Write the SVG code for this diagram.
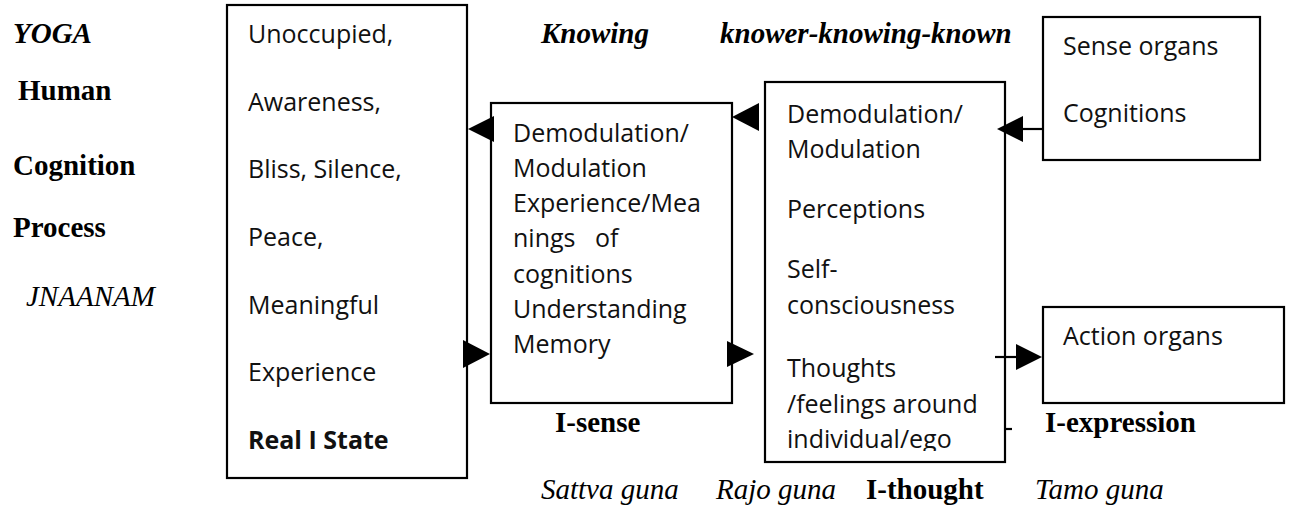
<svg xmlns="http://www.w3.org/2000/svg" width="1296" height="512" viewBox="0 0 1296 512">
  <style>
    .box { fill: #ffffff; stroke: #000000; stroke-width: 2.2; }
    .body { font-family: "Open Sans", "Noto Sans", sans-serif; font-size: 25px; fill: #111111; }
    .strong { font-weight: bold; }
    .serif { font-family: "Liberation Serif", "Times New Roman", serif; font-size: 29px; fill: #000000; }
    .b { font-weight: bold; }
    .i { font-style: italic; }
    .head { fill: #000000; }
    .wire { stroke: #000000; stroke-width: 2.2; fill: none; }
  </style>
  <defs>
    <clipPath id="clip-ithought">
      <rect x="765" y="82" width="240" height="369"/>
    </clipPath>
  </defs>
  <rect width="1296" height="512" fill="#ffffff"/>

  <!-- Side titles -->
  <g id="titles">
    <text class="serif b i" x="13" y="43">YOGA</text>
    <text class="serif b" x="18" y="100">Human</text>
    <text class="serif b" x="13" y="175">Cognition</text>
    <text class="serif b" x="13" y="237">Process</text>
    <text class="serif i" x="26" y="306">JNAANAM</text>
    <text class="serif b i" x="541" y="43">Knowing</text>
    <text class="serif b i" x="720" y="43">knower-knowing-known</text>
    <text class="serif b" x="555" y="432">I-sense</text>
    <text class="serif b" x="1045" y="432">I-expression</text>
    <text class="serif i" x="541" y="499">Sattva guna</text>
    <text class="serif i" x="716" y="499">Rajo guna</text>
    <text class="serif b" x="866" y="499">I-thought</text>
    <text class="serif i" x="1035" y="499">Tamo guna</text>
  </g>

  <!-- Real I state -->
  <g id="real-i-state">
    <rect class="box" x="227" y="5" width="240" height="473"/>
    <text class="body" x="248" y="43">Unoccupied,</text>
    <text class="body" x="248" y="111">Awareness,</text>
    <text class="body" x="248" y="178">Bliss, Silence,</text>
    <text class="body" x="248" y="246">Peace,</text>
    <text class="body" x="248" y="314">Meaningful</text>
    <text class="body" x="248" y="381">Experience</text>
    <text class="body strong" x="248" y="449">Real I State</text>
  </g>

  <!-- I-sense -->
  <g id="i-sense">
    <rect class="box" x="491" y="103" width="241" height="300"/>
    <text class="body" x="513" y="142">Demodulation/</text>
    <text class="body" x="513" y="177">Modulation</text>
    <text class="body" x="513" y="212">Experience/Mea</text>
    <text class="body" x="513" y="247" xml:space="preserve">nings   of</text>
    <text class="body" x="513" y="283">cognitions</text>
    <text class="body" x="513" y="318">Understanding</text>
    <text class="body" x="513" y="353">Memory</text>
  </g>

  <!-- I-thought -->
  <g id="i-thought">
    <rect class="box" x="765" y="82" width="240" height="380"/>
    <g clip-path="url(#clip-ithought)">
      <text class="body" x="787" y="123">Demodulation/</text>
      <text class="body" x="787" y="158">Modulation</text>
      <text class="body" x="787" y="218">Perceptions</text>
      <text class="body" x="787" y="278">Self-</text>
      <text class="body" x="787" y="314">consciousness</text>
      <text class="body" x="787" y="377">Thoughts</text>
      <text class="body" x="787" y="413">/feelings around</text>
      <text class="body" x="787" y="448">individual/ego</text>
    </g>
  </g>

  <!-- Sense organs -->
  <g id="sense-organs">
    <rect class="box" x="1043" y="17" width="217" height="143"/>
    <text class="body" x="1063" y="55">Sense organs</text>
    <text class="body" x="1063" y="122">Cognitions</text>
  </g>

  <!-- Action organs -->
  <g id="action-organs">
    <rect class="box" x="1043" y="307" width="241" height="96"/>
    <text class="body" x="1063" y="345">Action organs</text>
  </g>

  <!-- Connectors -->
  <g id="connectors">
    <!-- inward flow: sense organs to I-thought to I-sense to Real I -->
    <line class="wire" x1="1023" y1="129" x2="1043" y2="129"/>
    <polygon class="head" points="997,129 1023,116 1023,142"/>
    <polygon class="head" points="732,117 759,103 759,131"/>
    <polygon class="head" points="468,129 494,116 494,142"/>
    <!-- outward flow: Real I to I-sense to I-thought to action organs -->
    <polygon class="head" points="490,354 463,340 463,368"/>
    <polygon class="head" points="754,354 727,341 727,367"/>
    <line class="wire" x1="995" y1="357" x2="1016" y2="357"/>
    <polygon class="head" points="1042,357 1016,344 1016,370"/>
    <line class="wire" x1="1005" y1="429" x2="1012" y2="429"/>
  </g>
</svg>
